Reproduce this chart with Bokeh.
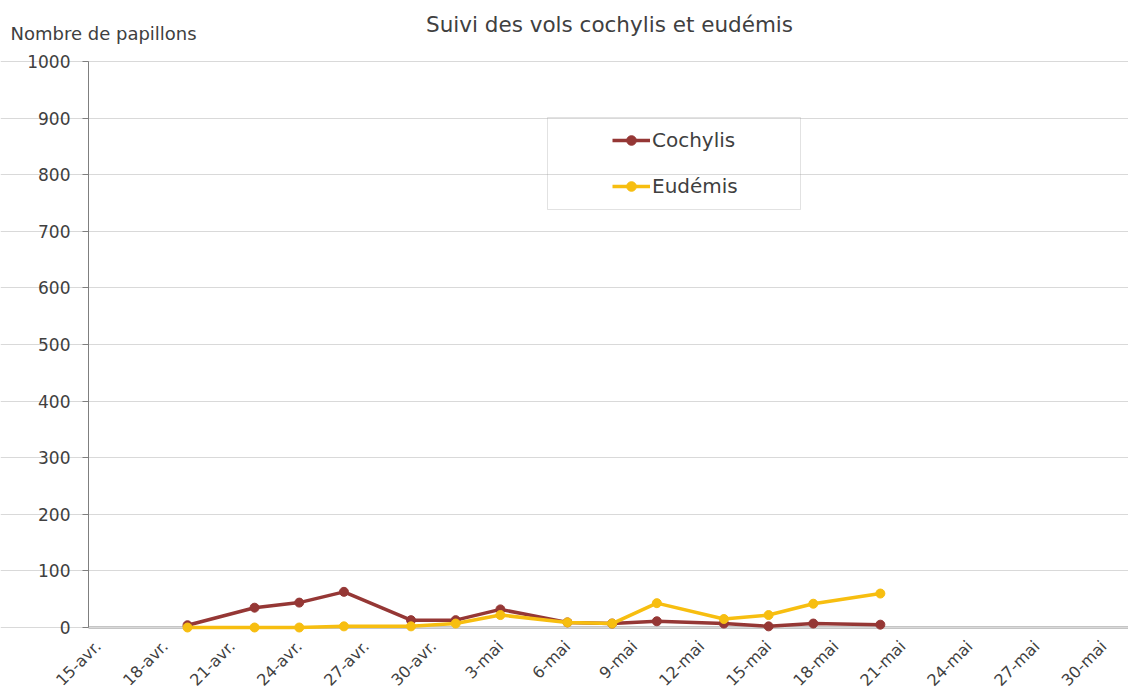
import datetime as dt
from bokeh.plotting import figure
from bokeh.models import (Range1d, FixedTicker, Label, BoxAnnotation, ColumnDataSource,
                          LinearAxis, Grid)
from bokeh.embed import file_html
from bokeh.resources import INLINE

# ---------------- data ----------------
origin = "2021-04-15"
sample_dates = ["2021-04-19", "2021-04-22", "2021-04-24", "2021-04-26", "2021-04-29",
                "2021-05-01", "2021-05-03", "2021-05-06", "2021-05-08", "2021-05-10",
                "2021-05-13", "2021-05-15", "2021-05-17", "2021-05-20"]
cochylis = [4, 35, 44, 63, 13, 13, 32, 9, 7, 11, 7, 2, 7, 5]
eudemis = [0, 0, 0, 2, 2, 7, 22, 9, 7, 43, 15, 22, 42, 60]
tick_dates = ["2021-04-15", "2021-04-18", "2021-04-21", "2021-04-24", "2021-04-27",
              "2021-04-30", "2021-05-03", "2021-05-06", "2021-05-09", "2021-05-12",
              "2021-05-15", "2021-05-18", "2021-05-21", "2021-05-24", "2021-05-27",
              "2021-05-30"]
tick_labels = ["15-avr.", "18-avr.", "21-avr.", "24-avr.", "27-avr.", "30-avr.",
               "3-mai", "6-mai", "9-mai", "12-mai", "15-mai", "18-mai", "21-mai",
               "24-mai", "27-mai", "30-mai"]
y_ticks = [0, 100, 200, 300, 400, 500, 600, 700, 800, 900, 1000]

title_text = "Suivi des vols cochylis et eudémis"
y_title = "Nombre de papillons"

# ---------------- helpers ----------------
d0 = dt.date.fromisoformat(origin)
def day(s):
    return (dt.date.fromisoformat(s) - d0).days

xs = [day(s) for s in sample_dates]
tick_pos = [day(s) for s in tick_dates]

W, H = 1128, 695
PX_DAY = 22.35     # pixels per day
X0_PX = 97.6       # pixel of first tick date
Y0_PX = 627        # pixel of value 0
PX_UNIT = 0.566    # pixels per butterfly

def px_to_x(px):
    return (px - X0_PX) / PX_DAY
def px_to_y(py):
    return (Y0_PX - py) / PX_UNIT

src = ColumnDataSource(dict(x=xs, coch=cochylis, eud=eudemis))

FONT = "DejaVu Sans"
TXT = "#404040"
RED = "#953735"
YEL = "#F7BE10"

p = figure(width=W, height=H, output_backend="svg", toolbar_location=None,
           x_range=Range1d(px_to_x(0), px_to_x(W)),
           y_range=Range1d(px_to_y(H), px_to_y(0)),
           x_axis_location=None, y_axis_location=None,
           min_border=0, min_border_left=0, min_border_right=0,
           min_border_top=0, min_border_bottom=0)
p.outline_line_color = None
p.background_fill_color = "white"
p.border_fill_color = "white"
# drop any default grids
p.center = [r for r in p.center if not isinstance(r, Grid)]

x_left = px_to_x(88)
x_right = px_to_x(W)

# grid (horizontal lines only)
grid = Grid(dimension=1, ticker=FixedTicker(ticks=y_ticks), bounds=(x_left, x_right),
            grid_line_color="#D9D9D9", grid_line_width=1)
p.add_layout(grid)

# y axis
yax = LinearAxis(fixed_location=x_left, bounds=(0, 1000),
                 ticker=FixedTicker(ticks=y_ticks))
yax.axis_line_color = "#7F7F7F"
yax.axis_line_width = 1
yax.major_tick_line_color = "#7F7F7F"
yax.major_tick_out = 6
yax.major_tick_in = 0
yax.minor_tick_line_color = None
yax.major_label_standoff = 12
yax.major_label_text_font = FONT
yax.major_label_text_font_size = "17px"
yax.major_label_text_color = TXT
p.add_layout(yax, "left")

# x axis
xax = LinearAxis(fixed_location=0, bounds=(x_left, x_right),
                 ticker=FixedTicker(ticks=tick_pos), level="underlay")
xax.major_label_overrides = {pos: lab for pos, lab in zip(tick_pos, tick_labels)}
xax.axis_line_color = "#8C8C8C"
xax.axis_line_width = 2
xax.major_tick_line_color = None
xax.major_tick_out = 0
xax.major_tick_in = 0
xax.minor_tick_line_color = None
xax.major_label_orientation = 0.785398
xax.major_label_standoff = 16
xax.major_label_text_font = FONT
xax.major_label_text_font_size = "16px"
xax.major_label_text_color = TXT
p.add_layout(xax, "below")

# series
p.line("x", "coch", source=src, color=RED, line_width=3.5, line_join="round",
       legend_label="Cochylis")
p.scatter("x", "coch", source=src, size=9, color=RED, legend_label="Cochylis")
p.line("x", "eud", source=src, color=YEL, line_width=3.5, line_join="round",
       legend_label="Eudémis")
p.scatter("x", "eud", source=src, size=9, color=YEL, legend_label="Eudémis")

# legend
lg = p.legend[0]
lg.location = (612, H - 198)
lg.padding = 0
lg.margin = 0
lg.spacing = 22
lg.glyph_width = 38
lg.glyph_height = 24
lg.label_height = 24
lg.label_standoff = 2
lg.border_line_color = None
lg.background_fill_color = None
lg.background_fill_alpha = 0
lg.label_text_font = FONT
lg.label_text_font_size = "20px"
lg.label_text_color = TXT

# legend frame
p.add_layout(BoxAnnotation(left=px_to_x(547), right=px_to_x(800),
                           bottom=px_to_y(209), top=px_to_y(117),
                           fill_color=None, fill_alpha=0, line_color="#A0A0A0",
                           line_width=1, level="overlay"))

# titles
p.add_layout(Label(x=609, y=H - 24, x_units="screen", y_units="screen", text=title_text,
                   text_align="center", text_baseline="middle", text_font=FONT,
                   text_font_size="21.5px", text_color=TXT))
p.add_layout(Label(x=10, y=H - 33, x_units="screen", y_units="screen", text=y_title,
                   text_align="left", text_baseline="middle", text_font=FONT,
                   text_font_size="18px", text_color=TXT))

open("out.html", "w").write(file_html(p, INLINE))
